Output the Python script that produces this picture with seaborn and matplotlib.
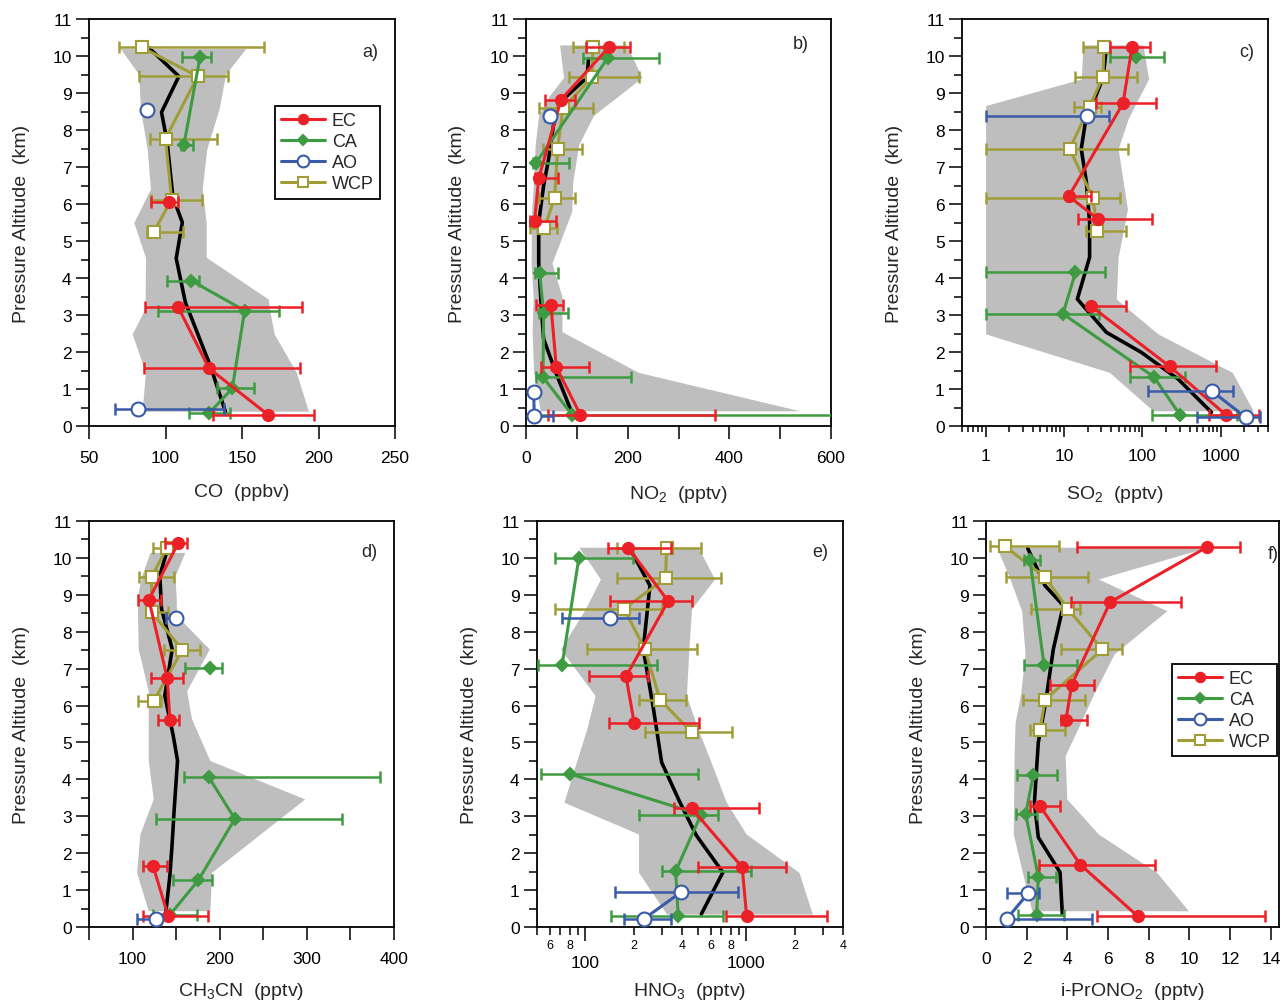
import numpy as np
import pandas as pd
import matplotlib
matplotlib.use("Agg")
import matplotlib.pyplot as plt
import matplotlib.ticker as mticker
from matplotlib.lines import Line2D
import seaborn as sns

nan = np.nan

# ---------------- data: rows are (altitude km, value, low, high); None = break in line
# a) CO (ppbv)
co_ec = [(6.06, 102.6, 90.6, 108.0), None, (3.21, 108.3, 86.5, 189.5),
         (1.56, 128.4, 85.8, 187.8), (0.31, 166.8, 131.2, 197.2)]
co_ca = [(9.96, 122.5, 111.0, 130.0), (7.59, 112.0, 110.0, 118.0), None,
         (3.93, 116.8, 100.7, 121.8), (3.12, 151.7, 95.2, 174.0),
         (1.02, 143.7, 133.4, 157.9), (0.35, 128.6, 115.5, 142.1)]
co_ao = [(8.54, 88.0, nan, nan), None, (0.46, 82.1, 66.8, 138.2)]
co_wcp = [(10.23, 84.7, 69.4, 164.6), (9.45, 121.0, 83.0, 140.6), (7.77, 100.0, 89.7, 133.4),
          (6.12, 104.0, 90.4, 124.0), (5.25, 92.4, 88.0, 111.4)]
co_med_alt = [10.23, 9.45, 8.48, 7.7, 6.2, 5.5, 4.53, 3.34, 1.6, 0.37]
co_med = [89, 108.7, 97.4, 101, 104.8, 111, 107, 113, 129.5, 139.3]
co_band_alt = [0.4, 1.45, 2.49, 3.16, 3.43, 4.56, 5.5, 6.41, 7.49, 8.57, 9.51, 10.2]
co_band_lo = [84.7, 86.9, 78.2, 86.5, 86.7, 86.9, 79.3, 90.2, 88.0, 83.6, 82.5, 70.5]
co_band_hi = [193.4, 185.5, 171.0, 168.0, 167.2, 126.6, 126.6, 124.0, 127.0, 135.0, 139.3, 152.4]

# b) NO2 (pptv)
no2_ec = [(10.25, 164, 118, 205), (8.82, 68.8, 38, 97), (6.69, 25, 18.3, 62),
          (5.55, 17, 7.2, 59.6), None, (3.27, 49, 20.3, 72.7),
          (1.59, 59.6, 30, 124.5), (0.31, 106.8, 44, 372.7)]
no2_ca = [(9.94, 160.5, 113, 260.7), (7.11, 19.7, 13, 85), None,
          (4.14, 26.9, 18.3, 62), (3.05, 34.7, 24.9, 82.5),
          (1.32, 33.4, 20.3, 207), (0.31, 90.4, 18.3, 620)]
no2_ao = [(8.37, 47.8, 38, 56), None, (0.93, 15, nan, nan), (0.26, 16.4, 7.2, 54)]
no2_wcp = [(10.25, 131.7, 91.7, 193), (9.42, 129.7, 83.8, 222.7), (8.59, 72.7, 24.9, 131.7),
           (7.5, 62.2, 32.8, 110), (6.17, 56.3, 24.9, 95.6), (5.34, 36, 7.2, 61)]
no2_med_alt = [9.92, 9.42, 8.75, 8.12, 7.22, 6.5, 5.5, 4.42, 3.34, 2.35, 1.36, 0.37]
no2_med = [123, 120, 67, 54, 44.5, 34.7, 25, 25, 29.5, 34.7, 61, 90]
no2_band_alt = [0.41, 1.45, 2.55, 3.5, 4.4, 5.8, 6.6, 7.6, 8.4, 8.9, 9.42, 10.3]
no2_band_lo = [28, 15, 12, 14, 10, 11, 15, 18, 25, 44.5, 74, 66]
no2_band_hi = [539, 221, 70.7, 70.7, 51, 90, 92, 103.5, 133, 180, 228, 198]

# c) SO2 (pptv)
so2_ec = [(10.25, 73.8, 39, 126), (8.72, 56.6, 25.9, 150), (6.21, 11.5, 11, 22),
          (5.59, 27.2, 15, 133), None, (3.23, 22.4, 22.4, 60.9),
          (1.61, 223, 69, 866), (0.31, 1149, 700, 3057)]
so2_ca = [(9.96, 82, 39, 187), None, (4.15, 14, 1.0, 33.7), (3.03, 9.7, 1.0, 27.7),
          (1.33, 139.6, 69, 347), (0.31, 300, 133, 1590)]
so2_ao = [(8.37, 19.7, 1.0, 38), None, (0.94, 775, 118, 1440), (0.23, 2085, 490, 3160)]
so2_wcp = [(10.25, 32.4, 17.5, 38), (9.44, 31.4, 13.7, 86.5), (8.63, 21.2, 13.3, 30),
           (7.49, 11.8, 1.0, 65.8), (6.16, 23.4, 1.0, 52.5), (5.28, 26.6, 19.2, 60.9)]
so2_med_alt = [10.19, 9.42, 8.84, 8.39, 7.49, 6.59, 5.5, 4.56, 3.43, 2.53, 1.99, 1.27, 0.37]
so2_med = [34.6, 31.5, 24.6, 19.3, 16.6, 19.3, 21.2, 21.2, 14.8, 34.8, 97, 285, 760]
so2_band_alt = [0.41, 1.45, 2.49, 3.43, 4.56, 5.86, 7.49, 8.3, 8.66, 9.38, 10.3]
so2_band_lo = [137, 38, 1.0, 1.0, 1.0, 1.0, 1.0, 1.0, 1.0, 16.6, 17.5]
so2_band_hi = [2590, 1400, 158, 46.5, 49, 64.5, 49, 65.8, 80, 120, 101.5]

# d) CH3CN (pptv)
ch3cn_ec = [(10.4, 152.4, 137, 162), (8.87, 118.7, 105.7, 133), (6.74, 139.8, 121, 158),
            (5.62, 142.8, 129.4, 153), None, (1.64, 123.7, 112.2, 139), (0.29, 141, 112.2, 186)]
ch3cn_ca = [(7.02, 188.7, 160, 202.8), None, (4.06, 187.5, 159.3, 383.6),
            (2.93, 217.4, 126.8, 340.4), (1.26, 175.3, 145.9, 191.7), (0.33, 142.8, 123.7, 174.5)]
ch3cn_ao = [(8.37, 149.7, 138, 152), None, (0.22, 126.4, 104.6, 133)]
ch3cn_wcp = [(10.26, 139, 123.7, 146.6), (9.48, 121.8, 107.3, 147.8), (8.53, 121.8, 116, 141),
             (7.51, 157, 136, 177.2), (6.13, 124.5, 105.7, 133)]
ch3cn_med_alt = [10.15, 9.52, 8.62, 7.53, 6.27, 5.19, 4.51, 3.2, 2.29, 1.39, 0.4]
ch3cn_med = [139, 131.3, 133.2, 145.5, 137, 146.6, 151.6, 147.8, 145.5, 142.8, 138.2]
ch3cn_band_alt = [0.44, 1.48, 2.52, 3.47, 4.51, 5.64, 6.4, 7.53, 8.44, 8.98, 9.5, 10.15]
ch3cn_band_lo = [118, 104.6, 108.4, 123.7, 118, 118, 118, 106.5, 105.7, 105.7, 110.3, 119.9]
ch3cn_band_hi = [188.7, 190.6, 246.5, 297.6, 188.7, 167.7, 162, 188, 150.5, 150, 148.5, 160]

# e) HNO3 (pptv)
hno3_ec = [(10.27, 185, 139, 339), (8.83, 327, 143, 463), (6.79, 179, 105, 246),
           (5.53, 201, 141, 507), None, (3.22, 457, 355, 1210),
           (1.62, 944, 502, 1770), (0.29, 1007, 750, 3200)]
hno3_ca = [(9.99, 91, 64.6, 197), (7.11, 71.7, 51, 277), None, (4.15, 80, 52.6, 498),
           (3.04, 523, 214, 669), (1.51, 364, 298, 1070), (0.29, 378, 144, 718)]
hno3_ao = [(8.37, 143, 71.7, 216), None, (0.94, 392, 153, 889), (0.23, 233, 174, 340)]
hno3_wcp = [(10.27, 320, 157, 522), (9.45, 315, 157, 695), (8.62, 174, 65, 298),
            (7.52, 235, 102, 491), (6.16, 291, 216, 425), (5.28, 457, 235, 814)]
hno3_med_alt = [10.24, 9.25, 7.53, 5.91, 4.46, 3.38, 2.48, 1.48, 0.35]
hno3_med = [190, 252, 229, 265, 298, 387, 490, 716, 526]
hno3_band_alt = [0.35, 1.48, 2.52, 3.38, 4.55, 5.37, 6.27, 7.53, 8.62, 9.43, 10.29]
hno3_band_lo = [320, 214, 214, 73.5, 89, 102, 115, 70, 100, 124, 91]
hno3_band_hi = [2580, 2130, 1000, 752, 594, 500, 425, 440, 457, 636, 502]

# f) i-PrONO2 (pptv)
prono_ec = [(10.29, 10.85, 4.46, 12.5), (8.8, 6.1, 4.18, 9.57), (6.56, 4.21, 3.15, 5.33),
            (5.61, 3.93, 3.69, 4.95), None, (3.27, 2.66, 2.16, 3.64),
            (1.69, 4.64, 2.61, 8.31), (0.29, 7.46, 5.44, 13.72)]
prono_ca = [(9.95, 2.16, 1.89, 2.66), (7.1, 2.85, 1.89, 4.46), None, (4.13, 2.33, 1.51, 3.48),
            (3.06, 1.95, 1.46, 2.5), (1.36, 2.57, 2.05, 3.44), (0.33, 2.49, 1.56, 3.85)]
prono_ao = [(0.92, 2.08, 1.05, 2.6), (0.22, 1.02, 1.02, 5.23)]
prono_wcp = [(10.31, 0.93, 0.2, 3.59), (9.48, 2.9, 0.97, 5.03), (8.62, 4.02, 2.21, 4.62),
             (7.52, 5.72, 3.69, 6.67), (6.16, 2.9, 1.84, 4.87), (5.35, 2.66, 2.16, 3.89)]
prono_med_alt = [10.26, 9.25, 8.71, 7.53, 6.09, 5.0, 3.38, 2.43, 1.48, 0.35]
prono_med = [2.05, 2.9, 3.8, 3.31, 2.93, 2.57, 2.38, 2.57, 3.64, 3.75]
prono_band_alt = [0.44, 1.48, 2.52, 3.47, 4.64, 5.55, 6.3, 7.4, 8.57, 9.43, 10.29]
prono_band_lo = [2.25, 1.79, 1.34, 1.36, 1.38, 1.43, 1.7, 1.92, 1.75, 1.18, 0.52]
prono_band_hi = [9.95, 8.39, 5.52, 3.97, 3.89, 4.66, 5.28, 6.3, 8.89, 5.52, 10.9]

RED = '#ec2027'
GREEN = '#3e9b41'
BLUE = '#3a5ba8'
OLIVE = '#a09d38'
BAND = '#bebebe'

# colour, marker, size, face, zorder
STYLE = {
    'EC': (RED, 'o', 8, RED, 5),
    'CA': (GREEN, 'D', 6.5, GREEN, 4),
    'AO': (BLUE, 'o', 10, 'white', 6),
    'WCP': (OLIVE, 's', 9, 'white', 3),
}

sns.set_theme(style='ticks')
plt.rcParams['font.family'] = ['Liberation Sans', 'DejaVu Sans']
plt.rcParams['mathtext.fontset'] = 'custom'
plt.rcParams['mathtext.rm'] = 'Liberation Sans'
plt.rcParams['mathtext.default'] = 'regular'


def split_rows(rows):
    segs, seg = [], []
    for r in rows:
        if r is None:
            segs.append(seg)
            seg = []
        else:
            seg.append(r)
    segs.append(seg)
    return [s for s in segs if s]


def draw_series(ax, rows, name):
    color, marker, ms, face, z = STYLE[name]
    for seg in split_rows(rows):
        df = pd.DataFrame(seg, columns=['alt', 'val', 'lo', 'hi'])
        e = df.dropna()
        if len(e):
            ax.errorbar(e['val'], e['alt'], xerr=[e['val'] - e['lo'], e['hi'] - e['val']],
                        fmt='none', ecolor=color, elinewidth=1.8, capsize=4, capthick=1.8,
                        zorder=z - 0.5)
        sns.lineplot(data=df, x='val', y='alt', sort=False, estimator=None, ax=ax,
                     color=color, lw=2.2, marker=marker, ms=ms, mfc=face, mec=color,
                     mew=1.5, zorder=z)


def draw_panel(ax, series, med_alt, med, band_alt, band_lo, band_hi):
    ax.fill_betweenx(band_alt, band_lo, band_hi, color=BAND, lw=0, zorder=1)
    sns.lineplot(x=med, y=med_alt, sort=False, estimator=None, ax=ax,
                 color='black', lw=2.6, zorder=2)
    for name in ['WCP', 'CA', 'EC', 'AO']:
        if series.get(name):
            draw_series(ax, series[name], name)


def style_axes(ax, letter, lx, xly=-0.125):
    ax.set_ylim(0, 11)
    ax.yaxis.set_major_locator(mticker.MultipleLocator(1))
    ax.yaxis.set_minor_locator(mticker.MultipleLocator(0.5))
    ax.tick_params(axis='both', which='both', direction='out', width=1.1, colors='black',
                   top=False, right=False, labelsize=12.5)
    ax.tick_params(axis='both', which='major', length=9.5)
    ax.tick_params(axis='both', which='minor', length=5.5)
    ax.tick_params(axis='y', which='major', pad=3)
    ax.tick_params(axis='x', which='major', pad=8)
    for sp in ax.spines.values():
        sp.set_linewidth(1.3)
        sp.set_color('black')
    ax.set_ylabel('Pressure Altitude  (km)', fontsize=14)
    ax.yaxis.set_label_coords(lx, 0.5)
    ax.xaxis.set_label_coords(0.5, xly)
    ax.xaxis.label.set_va('top')
    ax.text(letter[1], letter[2], letter[0], transform=ax.transAxes, fontsize=13,
            ha='center', va='center')


def legend(ax, x, y):
    handles = []
    for name in ['EC', 'CA', 'AO', 'WCP']:
        color, marker, ms, face, z = STYLE[name]
        handles.append(Line2D([], [], color=color, lw=2.2, marker=marker, ms=ms * 0.85,
                              mfc=face, mec=color, mew=1.5, label=name))
    lg = ax.legend(handles=handles, loc='upper left', bbox_to_anchor=(x, y), fontsize=13,
                   frameon=True, fancybox=False, framealpha=1, edgecolor='black',
                   handlelength=2.4, handletextpad=0.4, labelspacing=0.22,
                   borderpad=0.35, borderaxespad=0)
    lg.get_frame().set_linewidth(1.3)
    lg.set_zorder(10)


fig = plt.figure(figsize=(12.83, 10.03), dpi=100)
W, H = 1283, 1003
ax_a = fig.add_axes([89 / W, 576 / H, 306 / W, 407 / H])
ax_b = fig.add_axes([526 / W, 576 / H, 305 / W, 407 / H])
ax_c = fig.add_axes([962 / W, 576 / H, 306 / W, 407 / H])
ax_d = fig.add_axes([89 / W, 75 / H, 305 / W, 406 / H])
ax_e = fig.add_axes([537 / W, 75 / H, 306 / W, 406 / H])
ax_f = fig.add_axes([986 / W, 75 / H, 293 / W, 406 / H])

# a) CO
draw_panel(ax_a, {'EC': co_ec, 'CA': co_ca, 'AO': co_ao, 'WCP': co_wcp},
           co_med_alt, co_med, co_band_alt, co_band_lo, co_band_hi)
ax_a.set_xlim(50, 250)
ax_a.xaxis.set_major_locator(mticker.MultipleLocator(50))
ax_a.set_xlabel('CO  (ppbv)', fontsize=14)
style_axes(ax_a, ('a)', 0.92, 0.92), -0.193, -0.14)
legend(ax_a, 0.608, 0.786)

# b) NO2
draw_panel(ax_b, {'EC': no2_ec, 'CA': no2_ca, 'AO': no2_ao, 'WCP': no2_wcp},
           no2_med_alt, no2_med, no2_band_alt, no2_band_lo, no2_band_hi)
ax_b.set_xlim(0, 600)
ax_b.xaxis.set_major_locator(mticker.MultipleLocator(200))
ax_b.xaxis.set_minor_locator(mticker.MultipleLocator(100))
ax_b.set_xlabel('NO$_2$  (pptv)', fontsize=14)
style_axes(ax_b, ('b)', 0.9, 0.94), -0.197, -0.14)
ax_b.tick_params(axis='x', which='minor', length=9.5)

# c) SO2
draw_panel(ax_c, {'EC': so2_ec, 'CA': so2_ca, 'AO': so2_ao, 'WCP': so2_wcp},
           so2_med_alt, so2_med, so2_band_alt, so2_band_lo, so2_band_hi)
ax_c.set_xscale('log')
ax_c.set_xlim(0.5, 4000)
ax_c.xaxis.set_major_locator(mticker.LogLocator(base=10))
ax_c.xaxis.set_minor_locator(mticker.LogLocator(base=10, subs=np.arange(2, 10)))
ax_c.xaxis.set_major_formatter(mticker.FuncFormatter(lambda v, p: f'{v:g}'))
ax_c.xaxis.set_minor_formatter(mticker.NullFormatter())
ax_c.set_xlabel('SO$_2$  (pptv)', fontsize=14)
style_axes(ax_c, ('c)', 0.93, 0.92), -0.193, -0.14)
ax_c.tick_params(axis='x', which='major', length=8)
ax_c.tick_params(axis='x', which='minor', length=4.5)

# d) CH3CN
draw_panel(ax_d, {'EC': ch3cn_ec, 'CA': ch3cn_ca, 'AO': ch3cn_ao, 'WCP': ch3cn_wcp},
           ch3cn_med_alt, ch3cn_med, ch3cn_band_alt, ch3cn_band_lo, ch3cn_band_hi)
ax_d.set_xlim(50, 400)
ax_d.xaxis.set_major_locator(mticker.MultipleLocator(100))
ax_d.xaxis.set_minor_locator(mticker.MultipleLocator(50))
ax_d.set_xlabel('CH$_3$CN  (pptv)', fontsize=14)
style_axes(ax_d, ('d)', 0.92, 0.926), -0.193, -0.13)
ax_d.tick_params(axis='x', which='minor', length=9.5)

# e) HNO3
draw_panel(ax_e, {'EC': hno3_ec, 'CA': hno3_ca, 'AO': hno3_ao, 'WCP': hno3_wcp},
           hno3_med_alt, hno3_med, hno3_band_alt, hno3_band_lo, hno3_band_hi)
ax_e.set_xscale('log')
ax_e.set_xlim(50, 4001)
ax_e.xaxis.set_major_locator(mticker.LogLocator(base=10))
ax_e.xaxis.set_minor_locator(mticker.LogLocator(base=10, subs=np.arange(2, 10)))
ax_e.xaxis.set_major_formatter(mticker.FuncFormatter(lambda v, p: f'{v:g}'))


def minor_lab(v, p):
    m = int(round(v / 10 ** np.floor(np.log10(v))))
    return str(m) if m in (2, 4, 6, 8) else ''


ax_e.xaxis.set_minor_formatter(mticker.FuncFormatter(minor_lab))
ax_e.set_xlabel('HNO$_3$  (pptv)', fontsize=14)
style_axes(ax_e, ('e)', 0.925, 0.924), -0.193, -0.13)
ax_e.tick_params(axis='x', which='major', length=10, pad=10)
ax_e.tick_params(axis='x', which='minor', length=5.5, pad=3, labelsize=9)

# f) i-PrONO2
draw_panel(ax_f, {'EC': prono_ec, 'CA': prono_ca, 'AO': prono_ao, 'WCP': prono_wcp},
           prono_med_alt, prono_med, prono_band_alt, prono_band_lo, prono_band_hi)
ax_f.set_xlim(0, 14.4)
ax_f.xaxis.set_major_locator(mticker.MultipleLocator(2))
ax_f.set_xlabel('i-PrONO$_2$  (pptv)', fontsize=14)
style_axes(ax_f, ('f)', 0.98, 0.92), -0.2, -0.13)
legend(ax_f, 0.635, 0.648)

fig.savefig('out.png', dpi=100)
